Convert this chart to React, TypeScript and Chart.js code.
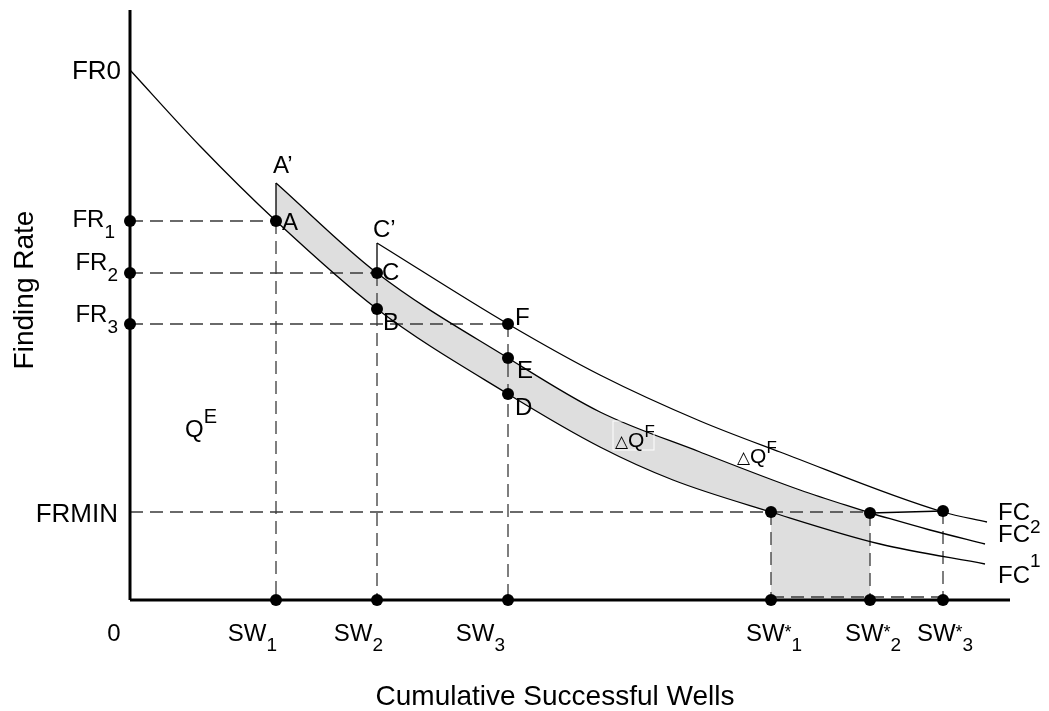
import { useEffect, useRef } from 'react';
import { Chart, registerables } from 'chart.js';

Chart.register(...registerables);

// ---- Data (x: cumulative successful wells, y: finding rate; arbitrary units) ----
// Finding-rate curve FC
const fcX = [0, 70, 146, 247, 378, 470, 543, 641, 750, 855];
const fcY = [530, 454, 379, 291, 206, 153, 120, 88, 56, 36];
// FC1 branch from A' to SW*2, then its tail
const fc1X = [146, 247, 378, 470, 570, 670, 740];
const fc1Y = [417, 327, 242, 188, 148, 110, 87];
const fc1TailX = [740, 800, 855];
const fc1TailY = [87, 70, 56];
// FC2 branch from C'
const fc2X = [247, 378, 470, 570, 650, 813, 857];
const fc2Y = [357, 276, 225, 179, 148, 88, 78];

// Key levels
const frLevels = [379, 327, 276]; // FR1, FR2, FR3
const swLevels = [146, 247, 378]; // SW1, SW2, SW3
const FRMIN = 88;
const swStar = [641, 740, 813]; // SW*1, SW*2, SW*3
const swStarY = [88, 87, 89];

// Labelled points
const ptA = [146, 379];
const ptAp = [146, 417];
const ptB = [247, 291];
const ptC = [247, 327];
const ptCp = [247, 357];
const ptD = [378, 206];
const ptE = [378, 242];
const ptF = [378, 276];

const X_MAX = 880;
const Y_MAX = 590;

const xy = (xs: number[], ys: number[]) => xs.map((x, i) => ({ x, y: ys[i] }));
const seg = (a: number[], b: number[]) => [{ x: a[0], y: a[1] }, { x: b[0], y: b[1] }];

const FONT = '"Liberation Sans", Arial, "DejaVu Sans", sans-serif';
const GRAY = '#dedede';

type Part = { t: string; s: number; dy?: number };
type Label = { at: number[]; dx: number; dy: number; align: 'left' | 'right' | 'center'; parts: Part[] };

const sub = (t: string, dy = 11): Part => ({ t, s: 19, dy });
const big = (t: string, s = 24): Part => ({ t, s });

const labels: Label[] = [
  { at: [0, 530], dx: -9, dy: 9, align: 'right', parts: [big('FR0', 26)] },
  { at: [0, frLevels[0]], dx: -15, dy: 6, align: 'right', parts: [big('FR'), sub('1')] },
  { at: [0, frLevels[1]], dx: -12, dy: -3, align: 'right', parts: [big('FR'), sub('2')] },
  { at: [0, frLevels[2]], dx: -12, dy: -2, align: 'right', parts: [big('FR'), sub('3')] },
  { at: [0, FRMIN], dx: -12, dy: 10, align: 'right', parts: [big('FRMIN', 26)] },
  { at: [0, 0], dx: -16, dy: 41, align: 'center', parts: [big('0')] },
  { at: [swLevels[0], 0], dx: 1, dy: 41, align: 'right', parts: [big('SW'), sub('1', 10)] },
  { at: [swLevels[1], 0], dx: 6, dy: 41, align: 'right', parts: [big('SW'), sub('2', 10)] },
  { at: [swLevels[2], 0], dx: -3, dy: 41, align: 'right', parts: [big('SW'), sub('3', 10)] },
  { at: [swStar[0], 0], dx: 3, dy: 41, align: 'center', parts: [big('SW'), { t: '*', s: 18, dy: -3 }, sub('1', 10)] },
  { at: [swStar[1], 0], dx: 3, dy: 41, align: 'center', parts: [big('SW'), { t: '*', s: 18, dy: -3 }, sub('2', 10)] },
  { at: [swStar[2], 0], dx: 2, dy: 41, align: 'center', parts: [big('SW'), { t: '*', s: 18, dy: -3 }, sub('3', 10)] },
  { at: ptAp, dx: -3, dy: -10, align: 'left', parts: [{ t: 'A\u2019', s: 24 }] },
  { at: ptA, dx: 6, dy: 9, align: 'left', parts: [{ t: 'A', s: 24 }] },
  { at: ptCp, dx: -4, dy: -6, align: 'left', parts: [{ t: 'C\u2019', s: 24 }] },
  { at: ptC, dx: 5, dy: 7, align: 'left', parts: [{ t: 'C', s: 24 }] },
  { at: ptB, dx: 6, dy: 21, align: 'left', parts: [{ t: 'B', s: 24 }] },
  { at: ptF, dx: 7, dy: 1, align: 'left', parts: [{ t: 'F', s: 24 }] },
  { at: ptE, dx: 9, dy: 20, align: 'left', parts: [{ t: 'E', s: 24 }] },
  { at: ptD, dx: 7, dy: 21, align: 'left', parts: [{ t: 'D', s: 24 }] },
  { at: [55, 163], dx: 0, dy: 0, align: 'left', parts: [{ t: 'Q', s: 24 }, { t: 'E', s: 20, dy: -14 }] },
  { at: [485, 153], dx: 0, dy: 0, align: 'left', parts: [{ t: '\u25B3', s: 17 }, { t: 'Q', s: 21 }, { t: 'F', s: 17, dy: -10 }] },
  { at: [607, 137], dx: 0, dy: 0, align: 'left', parts: [{ t: '\u25B3', s: 17 }, { t: 'Q', s: 21 }, { t: 'F', s: 17, dy: -10 }] },
  { at: [868, 80], dx: 0, dy: 0, align: 'left', parts: [big('FC'), sub('2', 13)] },
  { at: [868, 58], dx: 0, dy: 0, align: 'left', parts: [big('FC'), sub('1', 25)] },
  { at: [868, 17], dx: 0, dy: 0, align: 'left', parts: [big('FC')] },
];

function drawParts(ctx: CanvasRenderingContext2D, parts: Part[], x: number, y: number, align: string) {
  const widths = parts.map((p) => {
    ctx.font = `${p.s}px ${FONT}`;
    return ctx.measureText(p.t).width;
  });
  const total = widths.reduce((a, b) => a + b, 0);
  let cx = align === 'right' ? x - total : align === 'center' ? x - total / 2 : x;
  parts.forEach((p, i) => {
    ctx.font = `${p.s}px ${FONT}`;
    ctx.fillText(p.t, cx, y + (p.dy || 0));
    cx += widths[i];
  });
}

const textPlugin = {
  id: 'diagramText',
  afterDraw(chart: any) {
    const { ctx } = chart;
    const xs = chart.scales.x;
    const ys = chart.scales.y;
    ctx.save();
    ctx.fillStyle = '#000';
    ctx.textBaseline = 'alphabetic';
    ctx.textAlign = 'left';
    // small white frame around the first delta-Q label
    ctx.strokeStyle = 'rgba(255,255,255,0.95)';
    ctx.lineWidth = 1;
    const bx0 = xs.getPixelForValue(483);
    const bx1 = xs.getPixelForValue(524);
    const by0 = ys.getPixelForValue(179);
    const by1 = ys.getPixelForValue(150);
    ctx.strokeRect(bx0, by0, bx1 - bx0, by1 - by0);

    labels.forEach((l) => {
      const px = xs.getPixelForValue(l.at[0]) + l.dx;
      const py = ys.getPixelForValue(l.at[1]) + l.dy;
      drawParts(ctx, l.parts, px, py, l.align);
    });

    // axis titles
    ctx.font = `28px ${FONT}`;
    ctx.textAlign = 'center';
    ctx.fillText('Cumulative Successful Wells', xs.getPixelForValue(425), ys.getPixelForValue(-105));
    ctx.save();
    ctx.translate(xs.getPixelForValue(-97), ys.getPixelForValue(310));
    ctx.rotate(-Math.PI / 2);
    ctx.fillText('Finding Rate', 0, 0);
    ctx.restore();
    ctx.restore();
  },
};

export default function App() {
  const ref = useRef<HTMLCanvasElement | null>(null);

  useEffect(() => {
    document.body.style.margin = '0';
    if (!ref.current) return;

    const base = { pointRadius: 0, borderColor: '#000', borderWidth: 1.3, fill: false, clip: false as any, tension: 0 };
    const curve = { ...base, cubicInterpolationMode: 'monotone' as const };
    const dash = { ...base, borderColor: '#3a3a3a', borderWidth: 1.3, borderDash: [13, 7], order: 6 };

    const datasets: any[] = [];
    // gray shaded areas
    datasets.push({ ...curve, data: xy(fc1X, fc1Y), borderWidth: 0, borderColor: 'rgba(0,0,0,0)', fill: 'origin', backgroundColor: GRAY, order: 10 });
    datasets.push({ ...curve, data: xy(fcX, fcY), borderWidth: 0, borderColor: 'rgba(0,0,0,0)', fill: 'origin', backgroundColor: '#ffffff', order: 9 });
    datasets.push({ ...base, data: seg([swStar[0], FRMIN], [swStar[1], FRMIN]), borderWidth: 0, borderColor: 'rgba(0,0,0,0)', fill: 'origin', backgroundColor: GRAY, order: 8 });

    // dashed guides
    frLevels.forEach((fr, i) => {
      datasets.push({ ...dash, data: seg([0, fr], [swLevels[i], fr]) });
      datasets.push({ ...dash, data: seg([swLevels[i], fr], [swLevels[i], 0]) });
    });
    datasets.push({ ...dash, data: seg([0, FRMIN], [swStar[1], FRMIN]) });
    swStar.forEach((s, i) => datasets.push({ ...dash, data: seg([s, swStarY[i]], [s, 0]) }));
    datasets.push({ ...dash, data: seg([swStar[0], 3], [swStar[2], 3]) });

    // curves
    datasets.push({ ...curve, data: xy(fcX, fcY), order: 4 });
    datasets.push({ ...curve, data: xy(fc1X, fc1Y), order: 4 });
    datasets.push({ ...curve, data: xy(fc1TailX, fc1TailY), order: 4 });
    datasets.push({ ...curve, data: xy(fc2X, fc2Y), order: 4 });
    datasets.push({ ...base, data: seg(ptA, ptAp), order: 4 });
    datasets.push({ ...base, data: seg(ptC, ptCp), order: 4 });
    datasets.push({ ...base, data: seg([swStar[1], swStarY[1]], [swStar[2], swStarY[2]]), order: 4 });

    // axes
    datasets.push({ ...base, borderWidth: 3, data: seg([0, 0], [0, Y_MAX]), order: 2 });
    datasets.push({ ...base, borderWidth: 3, data: seg([0, 0], [X_MAX, 0]), order: 2 });

    // dots
    const dots = [
      ...frLevels.map((fr) => ({ x: 0, y: fr })),
      ...swLevels.map((s) => ({ x: s, y: 0 })),
      ...swStar.map((s) => ({ x: s, y: 0 })),
      ...[ptA, ptB, ptC, ptD, ptE, ptF].map((p) => ({ x: p[0], y: p[1] })),
      ...swStar.map((s, i) => ({ x: s, y: swStarY[i] })),
    ];
    datasets.push({
      data: dots,
      showLine: false,
      pointRadius: 6,
      pointBackgroundColor: '#000',
      pointBorderColor: '#000',
      pointBorderWidth: 0,
      clip: false,
      order: 1,
    });

    const chart = new Chart(ref.current, {
      type: 'line',
      data: { datasets },
      options: {
        animation: false,
        responsive: false,
        devicePixelRatio: 1,
        layout: { padding: { left: 130, right: 39, top: 10, bottom: 111 } },
        scales: {
          x: { type: 'linear', min: 0, max: X_MAX, display: false },
          y: { type: 'linear', min: 0, max: Y_MAX, display: false },
        },
        plugins: { legend: { display: false }, tooltip: { enabled: false } },
        events: [],
      },
      plugins: [textPlugin],
    });
    return () => chart.destroy();
  }, []);

  return <canvas ref={ref} width={1049} height={711} style={{ display: 'block', width: 1049, height: 711 }} />;
}
